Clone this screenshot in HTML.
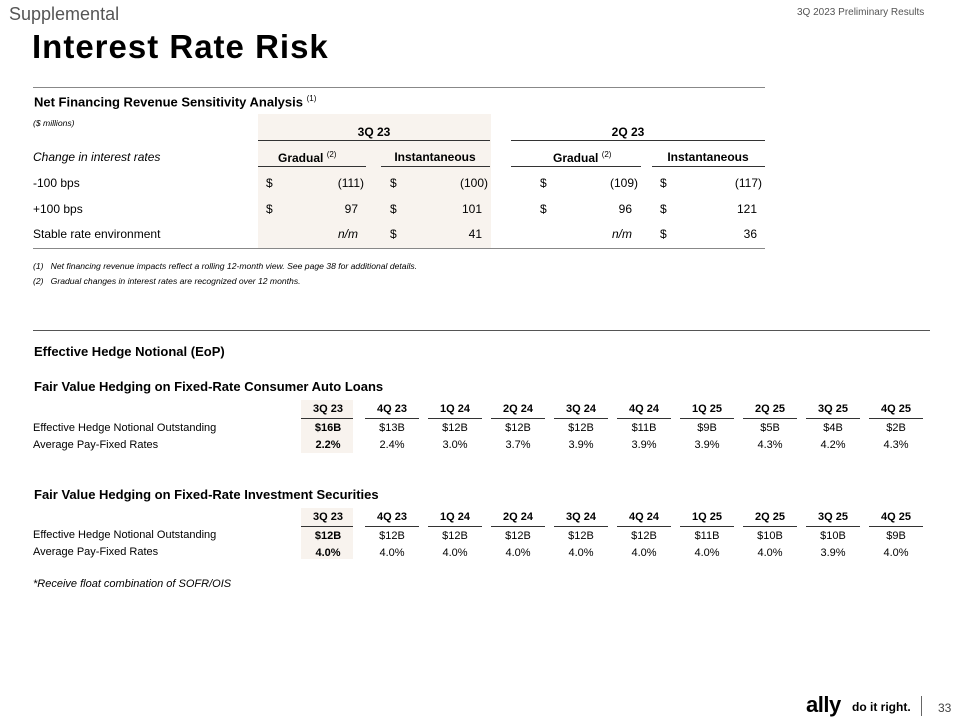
<!DOCTYPE html>
<html><head><meta charset="utf-8"><style>
body{margin:0;width:960px;height:720px;background:#fff;position:relative;overflow:hidden;font-family:"Liberation Sans",sans-serif;color:#000}
.a{position:absolute;white-space:nowrap}
.l{position:absolute;height:0;border-top:1.5px solid #333}
.sh{position:absolute;background:#f8f3ee}
.c{transform:translateX(-50%)}
.r{transform:translateX(-100%)}
.b{font-weight:bold}
.i{font-style:italic}
</style></head><body>
<div class="a" style="left:9px;top:4px;font-size:18px;color:#555">Supplemental</div>
<div class="a" style="left:797px;top:7px;font-size:10px;color:#555">3Q 2023 Preliminary Results</div>
<div class="a b" style="left:32px;top:28px;font-size:33px;letter-spacing:1px">Interest Rate Risk</div>

<div class="l" style="left:33px;top:87px;width:732px;border-color:#888"></div>
<div class="sh" style="left:258px;top:114px;width:233px;height:134px"></div>
<div class="a b" style="left:34px;top:94px;font-size:13px">Net Financing Revenue Sensitivity Analysis <sup style="font-size:8px;font-weight:normal">(1)</sup></div>
<div class="a i" style="left:33px;top:118px;font-size:8.6px">($ millions)</div>
<div class="a b c" style="left:374px;top:125px;font-size:12px">3Q 23</div>
<div class="a b c" style="left:628px;top:125px;font-size:12px">2Q 23</div>
<div class="l" style="left:258px;top:140px;width:232px"></div>
<div class="l" style="left:511px;top:140px;width:254px"></div>
<div class="a i" style="left:33px;top:150px;font-size:12px">Change in interest rates</div>
<div class="a b" style="left:278px;top:150px;font-size:12px">Gradual <sup style="font-size:8px;font-weight:normal">(2)</sup></div>
<div class="a b c" style="left:435px;top:150px;font-size:12px">Instantaneous</div>
<div class="a b" style="left:553px;top:150px;font-size:12px">Gradual <sup style="font-size:8px;font-weight:normal">(2)</sup></div>
<div class="a b c" style="left:708px;top:150px;font-size:12px">Instantaneous</div>
<div class="l" style="left:258px;top:166px;width:108px"></div>
<div class="l" style="left:381px;top:166px;width:109px"></div>
<div class="l" style="left:511px;top:166px;width:130px"></div>
<div class="l" style="left:652px;top:166px;width:113px"></div>

<div class="a" style="left:33px;top:176px;font-size:12px">-100 bps</div>
<div class="a" style="left:33px;top:202px;font-size:12px">+100 bps</div>
<div class="a" style="left:33px;top:227px;font-size:12px">Stable rate environment</div>
<div class="a" style="left:266px;top:176px;font-size:12px">$</div>
<div class="a r" style="left:364px;top:176px;font-size:12px">(111)</div>
<div class="a" style="left:390px;top:176px;font-size:12px">$</div>
<div class="a r" style="left:488px;top:176px;font-size:12px">(100)</div>
<div class="a" style="left:540px;top:176px;font-size:12px">$</div>
<div class="a r" style="left:638px;top:176px;font-size:12px">(109)</div>
<div class="a" style="left:660px;top:176px;font-size:12px">$</div>
<div class="a r" style="left:762px;top:176px;font-size:12px">(117)</div>
<div class="a" style="left:266px;top:202px;font-size:12px">$</div>
<div class="a r" style="left:358px;top:202px;font-size:12px">97</div>
<div class="a" style="left:390px;top:202px;font-size:12px">$</div>
<div class="a r" style="left:482px;top:202px;font-size:12px">101</div>
<div class="a" style="left:540px;top:202px;font-size:12px">$</div>
<div class="a r" style="left:632px;top:202px;font-size:12px">96</div>
<div class="a" style="left:660px;top:202px;font-size:12px">$</div>
<div class="a r" style="left:757px;top:202px;font-size:12px">121</div>
<div class="a i r" style="left:358px;top:227px;font-size:12px">n/m</div>
<div class="a" style="left:390px;top:227px;font-size:12px">$</div>
<div class="a r" style="left:482px;top:227px;font-size:12px">41</div>
<div class="a i r" style="left:632px;top:227px;font-size:12px">n/m</div>
<div class="a" style="left:660px;top:227px;font-size:12px">$</div>
<div class="a r" style="left:757px;top:227px;font-size:12px">36</div>
<div class="l" style="left:33px;top:248px;width:732px;border-color:#888"></div>
<div class="a i" style="left:33px;top:261px;font-size:8.6px">(1)&nbsp;&nbsp;&nbsp;Net financing revenue impacts reflect a rolling 12-month view. See page 38 for additional details.</div>
<div class="a i" style="left:33px;top:276px;font-size:8.6px">(2)&nbsp;&nbsp;&nbsp;Gradual changes in interest rates are recognized over 12 months.</div>

<div class="l" style="left:33px;top:330px;width:897px;border-color:#555"></div>
<div class="a b" style="left:34px;top:344px;font-size:13px">Effective Hedge Notional (EoP)</div>

<div class="a b" style="left:34px;top:379px;font-size:13px">Fair Value Hedging on Fixed-Rate Consumer Auto Loans</div>
<div class="sh" style="left:301px;top:400px;width:52px;height:53px"></div>
<div class="a" style="left:33px;top:422px;font-size:11px">Effective Hedge Notional Outstanding</div>
<div class="a" style="left:33px;top:439px;font-size:11px">Average Pay-Fixed Rates</div>

<div class="a b" style="left:34px;top:487px;font-size:13px">Fair Value Hedging on Fixed-Rate Investment Securities</div>
<div class="sh" style="left:301px;top:508px;width:52px;height:51px"></div>
<div class="a" style="left:33px;top:529px;font-size:11px">Effective Hedge Notional Outstanding</div>
<div class="a" style="left:33px;top:546px;font-size:11px">Average Pay-Fixed Rates</div>
<div class="a i" style="left:33px;top:578px;font-size:11px">*Receive float combination of SOFR/OIS</div>

<div id="g"></div>
<script>
var cols=[328,392,455,518,581,644,707,770,833,896];
var hd=["3Q 23","4Q 23","1Q 24","2Q 24","3Q 24","4Q 24","1Q 25","2Q 25","3Q 25","4Q 25"];
var t1=[["$16B","$13B","$12B","$12B","$12B","$11B","$9B","$5B","$4B","$2B"],["2.2%","2.4%","3.0%","3.7%","3.9%","3.9%","3.9%","4.3%","4.2%","4.3%"]];
var t2=[["$12B","$12B","$12B","$12B","$12B","$12B","$11B","$10B","$10B","$9B"],["4.0%","4.0%","4.0%","4.0%","4.0%","4.0%","4.0%","4.0%","3.9%","4.0%"]];
var h="";
function blk(y,t){for(var i=0;i<10;i++){var x=cols[i];
h+='<div class="a b c" style="left:'+x+'px;top:'+(y)+'px;font-size:11px">'+hd[i]+'</div>';
h+='<div class="l" style="left:'+(x-27)+'px;top:'+(y+15)+'px;width:'+(i==0?52:54)+'px"></div>';
h+='<div class="a c'+(i==0?' b':'')+'" style="left:'+x+'px;top:'+(y+19)+'px;font-size:11px">'+t[0][i]+'</div>';
h+='<div class="a c'+(i==0?' b':'')+'" style="left:'+x+'px;top:'+(y+36)+'px;font-size:11px">'+t[1][i]+'</div>';}}
blk(403,t1);blk(511,t2);
document.getElementById("g").innerHTML=h;
</script>

<div class="a b" style="left:806px;top:692px;font-size:22px;letter-spacing:-0.5px">ally</div>
<div class="a b" style="left:852px;top:700px;font-size:12px">do it right.</div>
<div class="a" style="left:921px;top:696px;width:1px;height:20px;background:#666"></div>
<div class="a" style="left:938px;top:701px;font-size:12px;color:#444">33</div>
</body></html>
